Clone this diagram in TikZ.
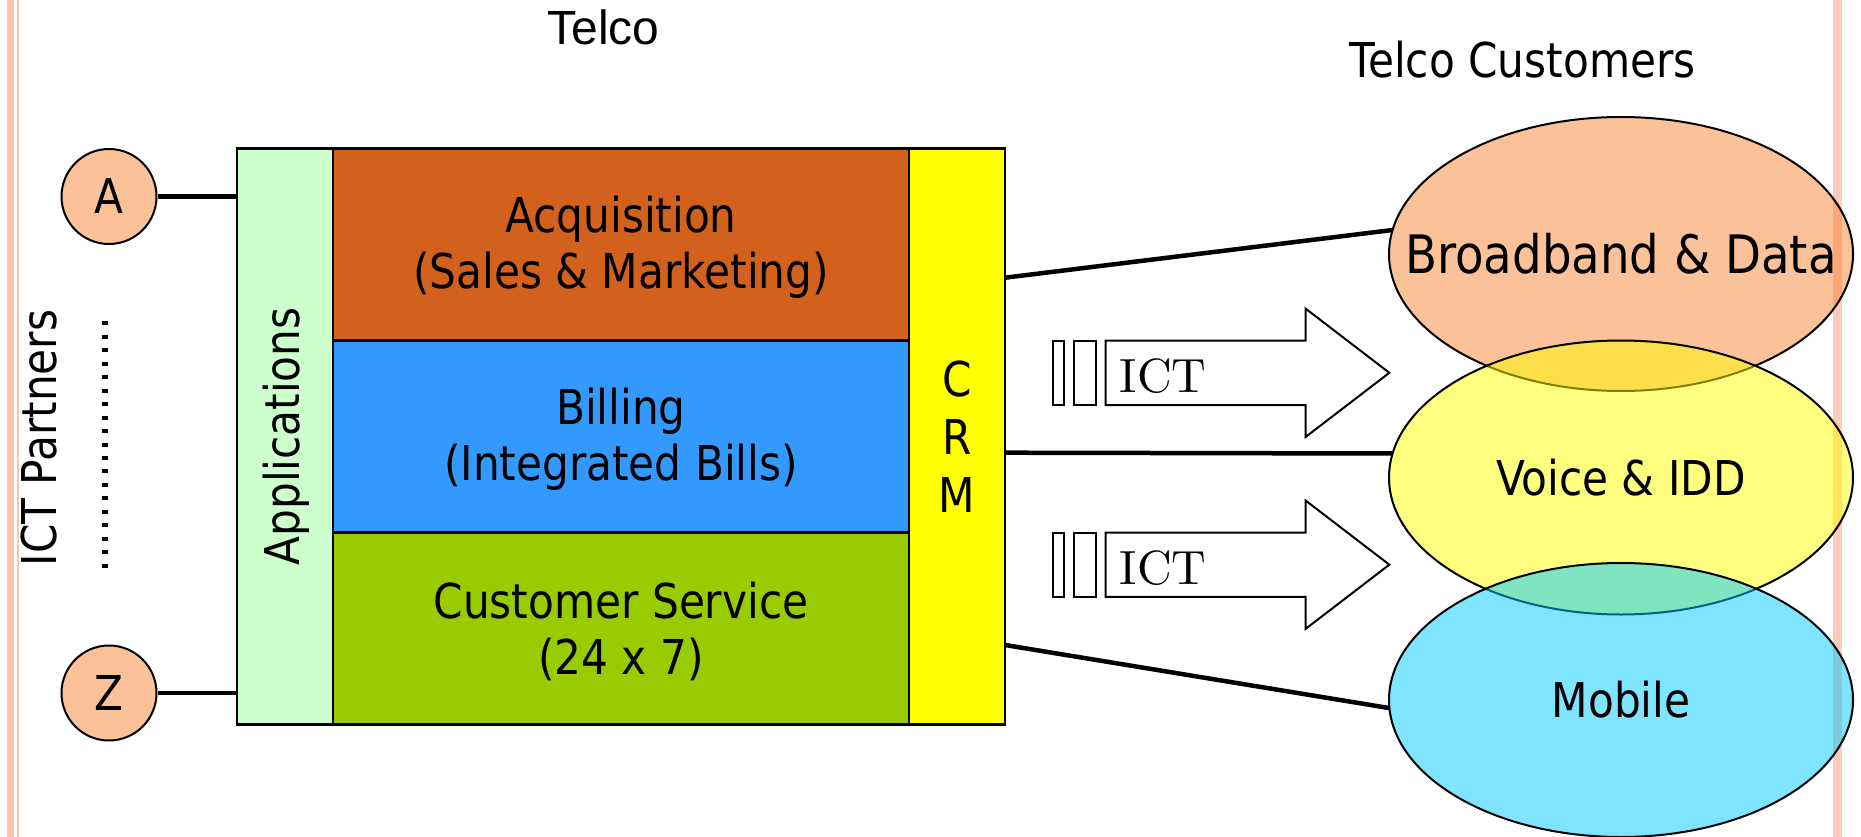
\documentclass[tikz,border=0pt]{standalone}
\usepackage{fontspec}
\usetikzlibrary{shapes.geometric}
\newfontfamily\tahfont[FakeStretch=0.88]{DejaVu Sans}
\newfontfamily\arialfont{Liberation Sans}
\definecolor{edgepink}{RGB}{253,196,176}
\definecolor{edgepinklight}{RGB}{255,202,186}
\definecolor{peach}{RGB}{251,193,153}
\definecolor{appgreen}{RGB}{204,255,204}
\definecolor{acqorange}{RGB}{210,97,29}
\definecolor{billblue}{RGB}{51,153,255}
\definecolor{csgreen}{RGB}{153,204,0}
\definecolor{crmyellow}{RGB}{255,255,0}
\definecolor{bbfill}{RGB}{247,131,51}
\definecolor{voicefill}{RGB}{255,255,0}
\definecolor{mobfill}{RGB}{0,201,255}
\tikzset{
  big/.style={font=\tahfont\fontsize{48}{56}\selectfont},
  block/.style={draw=black, line width=2.2pt, rectangle, inner sep=0pt, outer sep=0pt},
  blocktext/.style={big, align=center},
  partner/.style={circle, draw=black, line width=2pt, fill=peach, minimum size=95pt, inner sep=0pt, big},
  market/.style={ellipse, draw=black, line width=2pt, fill opacity=0.5, minimum width=464pt, minimum height=274pt, inner sep=0pt, outer sep=0pt},
  link/.style={line width=4.5pt},
  ictarrow/.style={draw=black, line width=2pt, fill=white, line join=miter},
}
\begin{document}
\begin{tikzpicture}[x=1pt,y=-1pt]
\useasboundingbox (0,0) rectangle (1861,837);
% page edge rules
\fill[edgepink] (7.3,0) rectangle (14.3,837);
\fill[edgepink] (16.7,0) rectangle (19,837);
\fill[edgepinklight] (1833.3,0) rectangle (1841.7,837);

% headings
\node[font=\arialfont\fontsize{48}{56}\selectfont, anchor=base] (telco) at (603.3,45) {Telco};
\node[big, anchor=base] (custs) at (1522.5,77.3) {Telco Customers};

% telco blocks
\node[block, fill=appgreen, minimum width=96pt, minimum height=576pt] (apps) at (284.7,436.5) {};
\node[big, rotate=90] (appslabel) at (286,436.5) {Applications};
\node[block, fill=acqorange, minimum width=576.6pt, minimum height=192pt] (acq) at (621,244.5) {};
\node[blocktext] (acqlabel) at (621,247) {Acquisition\\(Sales \& Marketing)};
\node[block, fill=billblue, minimum width=576.6pt, minimum height=192pt] (bill) at (621,436.5) {};
\node[blocktext] (billlabel) at (621,439) {Billing\\(Integrated Bills)};
\node[block, fill=csgreen, minimum width=576.6pt, minimum height=192pt] (cs) at (621,628.5) {};
\node[blocktext] (cslabel) at (621,631) {Customer Service\\(24 x 7)};
\node[block, fill=crmyellow, minimum width=95.7pt, minimum height=576pt] (crm) at (957.2,436.5) {};
\node[font=\tahfont\fontsize{48}{58}\selectfont, align=center] (crmlabel) at (957.2,437) {C\\R\\M};

% partners
\node[big, rotate=90] (partners) at (39,438) {ICT Partners};
\node[partner] (pa) at (109,196.5) {A};
\node[partner] (pz) at (109,693) {Z};
\draw[link] (pa.east) -- (pa.east -| apps.west);
\draw[link] (pz.east) -- (pz.east -| apps.west);
\coordinate (dtop) at (105,321.3);
\coordinate (dbot) at (105,568);
\draw[line width=6pt, dash pattern=on 4pt off 9.47pt] (dtop) -- (dbot);

% customer segments
\node[market, fill=bbfill] (bb) at (1621,254) {};
\node[market, fill=voicefill] (voice) at (1621,477.5) {};
\node[market, fill=mobfill] (mob) at (1621,700) {};
\node[font=\tahfont\fontsize{53}{60}\selectfont] (bblabel) at (bb) {Broadband \& Data};
\node[big] (voicelabel) at (voice) {Voice \& IDD};
\node[big] (moblabel) at (mob) {Mobile};

% CRM links
\draw[link] ([yshift=158.8pt]crm.east) -- (bb.174);
\draw[link] ([yshift=-16.2pt]crm.east) -- (voice.174);
\draw[link] ([yshift=-208.5pt]crm.east) -- (mob.182);

% striped ICT arrows
\foreach \dy/\nm in {0/ictA,191.9/ictB}{
  \begin{scope}[shift={(0,\dy)}]
    \draw[ictarrow] (1052.7,340.7) rectangle (1064.3,405);
    \draw[ictarrow] (1074,340.7) rectangle (1096,405);
    \draw[ictarrow] (1105.7,340.7) -- (1305.7,340.7) -- (1305.7,308.7) -- (1389.3,372.8)
      -- (1305.7,436.9) -- (1305.7,405) -- (1105.7,405) -- cycle;
    \node[anchor=base west, inner sep=0pt] (\nm) at (1119.5,392.3)
      {\scalebox{4.8}{\fontsize{10}{12}\selectfont ICT}};
  \end{scope}
}
\end{tikzpicture}
\end{document}
